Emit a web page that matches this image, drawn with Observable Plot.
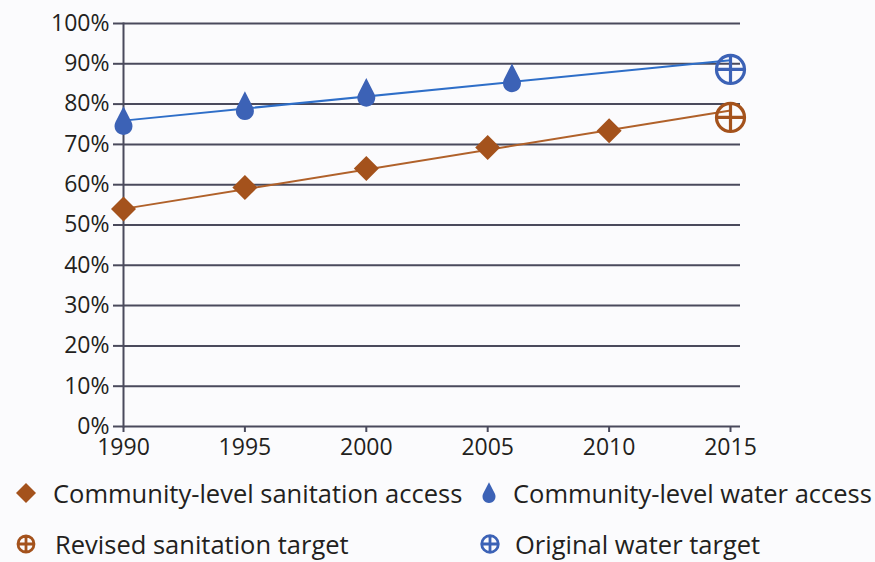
<!DOCTYPE html>
<html>
<head>
<meta charset="utf-8">
<script src="https://cdn.jsdelivr.net/npm/d3@7"></script>
<script src="https://cdn.jsdelivr.net/npm/@observablehq/plot@0.6"></script>
<style>
  html, body { margin: 0; padding: 0; background: #fbfbfd; }
  #wrap { position: relative; width: 875px; height: 562px; font-family: "Open Sans", sans-serif; color: #231f20; }
  .item { position: absolute; display: flex; align-items: center; font-size: 25.5px; white-space: nowrap; }
</style>
</head>
<body>
<div id="wrap">
  <div id="chart"></div>
  <div id="legend"></div>
</div>
<script>
// ---- data ----
const sanitationYears = [1990, 1995, 2000, 2005, 2010];
const sanitation = [54, 59.3, 64, 69.2, 73.4];
const waterYears = [1990, 1995, 2000, 2006];
const water = [75.8, 79.5, 82.8, 86.4];
const trendYears = [1990, 2015];
const sanitationTrend = [54, 78.4];
const waterTrend = [75.9, 90.9];
const targetYears = [2015];
const sanitationTarget = [76.7];
const waterTarget = [88.6];
const xTicks = [1990, 1995, 2000, 2005, 2010, 2015];
const yTicks = [0, 10, 20, 30, 40, 50, 60, 70, 80, 90, 100];
const legendLabels = ["Community-level sanitation access", "Community-level water access", "Revised sanitation target", "Original water target"];

const brown = "#a4521c";
const brownLine = "#b0612a";
const blue = "#3c62b6";
const blueLine = "#2e6ec8";
const gridColor = "#4a4a5c";

// ---- custom symbols ----
const diamondSym = { draw(ctx, size) { const R = Math.sqrt(size / Math.PI);
  ctx.moveTo(0, -R); ctx.lineTo(R, 0); ctx.lineTo(0, R); ctx.lineTo(-R, 0); ctx.closePath(); } };
const dropSym = { draw(ctx, size) { const R = Math.sqrt(size / Math.PI); const cy = 0.55 * R;
  ctx.moveTo(0, cy - 2.2 * R); ctx.lineTo(0.8907 * R, cy - 0.4545 * R);
  ctx.arc(0, cy, R, -0.4720, Math.PI + 0.4720); ctx.closePath(); } };
const targetSym = { draw(ctx, size) { const R = Math.sqrt(size / Math.PI);
  ctx.moveTo(R, 0); ctx.arc(0, 0, R, 0, 2 * Math.PI);
  ctx.moveTo(-R, 0); ctx.lineTo(R, 0); ctx.moveTo(0, -R); ctx.lineTo(0, R); } };

const sanData = sanitationYears.map((x, i) => ({ x, y: sanitation[i] }));
const watData = waterYears.map((x, i) => ({ x, y: water[i] }));
const sanTrend = trendYears.map((x, i) => ({ x, y: sanitationTrend[i] }));
const watTrend = trendYears.map((x, i) => ({ x, y: waterTrend[i] }));
const sanTarget = targetYears.map((x, i) => ({ x, y: sanitationTarget[i] }));
const watTarget = targetYears.map((x, i) => ({ x, y: waterTarget[i] }));

const chart = Plot.plot({
  width: 875, height: 462,
  marginLeft: 123, marginRight: 135, marginTop: 23, marginBottom: 36,
  style: { background: "#fbfbfd", fontFamily: "Open Sans, sans-serif", color: "#231f20" },
  x: { domain: [1990, 2015], range: [123, 730], label: null },
  y: { domain: [0, 100], label: null },
  marks: [
    Plot.gridY(yTicks, { stroke: gridColor, strokeOpacity: 1, strokeWidth: 2 }),
    Plot.axisY(yTicks, { tickSize: 10, tickPadding: 4, fontSize: 23, stroke: gridColor, strokeWidth: 2, fill: "#231f20", tickFormat: d => d + "%", label: null }),
    Plot.frame({ anchor: "left", stroke: gridColor, strokeWidth: 2 }),
    Plot.axisX(xTicks, { tickSize: 6, tickPadding: 6, fontSize: 23, stroke: gridColor, strokeWidth: 2, fill: "#231f20", tickFormat: d => String(d), label: null }),
    Plot.line(sanTrend, { x: "x", y: "y", stroke: brownLine, strokeWidth: 2 }),
    Plot.line(watTrend, { x: "x", y: "y", stroke: blueLine, strokeWidth: 2 }),
    Plot.dot(sanData, { x: "x", y: "y", symbol: diamondSym, r: 12.5, fill: brown, stroke: "none" }),
    Plot.dot(watData, { x: "x", y: "y", symbol: dropSym, r: 9, fill: blue, stroke: "none" }),
    Plot.dot(sanTarget, { x: "x", y: "y", symbol: targetSym, r: 14, fill: "none", stroke: brown, strokeWidth: 3.2 }),
    Plot.dot(watTarget, { x: "x", y: "y", symbol: targetSym, r: 14, fill: "none", stroke: blue, strokeWidth: 3.2 })
  ]
});
document.getElementById("chart").appendChild(chart);

// ---- legend ----
function symSvg(sym, r, fill, stroke, sw, gap) {
  const s = 30;
  const p = d3.path(); sym.draw(p, r * r * Math.PI);
  return `<svg width="${s}" height="${s}" viewBox="${-s/2} ${-s/2} ${s} ${s}" style="margin-right:${gap}px"><path d="${p}" fill="${fill}" stroke="${stroke}" stroke-width="${sw}"/></svg>`;
}
const legendItems = [
  { label: legendLabels[0], svg: symSvg(diamondSym, 10, brown, "none", 0, 12), left: 11, top: 476 },
  { label: legendLabels[1], svg: symSvg(dropSym, 6.5, blue, "none", 0, 9), left: 474, top: 476 },
  { label: legendLabels[2], svg: symSvg(targetSym, 8, "none", brown, 2.8, 14), left: 11, top: 527 },
  { label: legendLabels[3], svg: symSvg(targetSym, 8.3, "none", blue, 2.8, 10), left: 475, top: 527 }
];
const legend = document.getElementById("legend");
legendItems.forEach(it => {
  const d = document.createElement("div");
  d.className = "item";
  d.style.left = it.left + "px"; d.style.top = it.top + "px";
  d.innerHTML = it.svg + `<span>${it.label}</span>`;
  legend.appendChild(d);
});
</script>
</body>
</html>
